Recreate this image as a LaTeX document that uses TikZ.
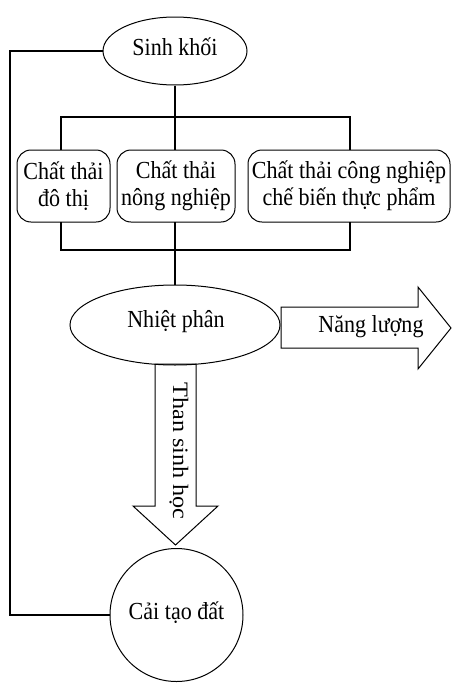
\documentclass[tikz,border=0pt]{standalone}
\usepackage{fontspec}
\setmainfont{Liberation Serif}[FakeStretch=0.9]
\newfontfamily\rotfont{Liberation Serif}[FakeStretch=1.1]
\usetikzlibrary{shapes.geometric}
\begin{document}
\begin{tikzpicture}[x=1pt,y=1pt,
  line/.style={line width=1.5pt},
  shapeline/.style={line width=1pt},
  txt/.style={font=\fontsize{24.5}{27}\selectfont, inner sep=0pt},
  wastebox/.style={draw, shapeline, rounded corners=14pt, align=center, inner sep=0pt,
    minimum height=72pt, font=\fontsize{24.5}{27}\selectfont}
]
\useasboundingbox (0,0) rectangle (452,-683);

% Sinh khoi
\node[draw, shapeline, ellipse, minimum width=144pt, minimum height=68pt, inner sep=0pt] (sk) at (175,-51) {};
\node[txt] (sktext) at (175,-47) {Sinh khối};

% boxes
\node[wastebox, minimum width=93pt] (b1) at (63.5,-186) {Chất thải\\đô thị};
\node[wastebox, minimum width=118pt] (b2) at (176,-186) {Chất thải\\nông nghiệp};
\node[wastebox, minimum width=202pt] (b3) at (349,-186) {Chất thải công nghiệp\\chế biến thực phẩm};

% Nhiet phan
\node[draw, shapeline, ellipse, minimum width=210pt, minimum height=80pt, inner sep=0pt] (np) at (175,-325) {};
\node[txt] (nptext) at (176,-322) {Nhiệt phân};

% Cai tao dat
\node[draw, shapeline, circle, minimum size=133pt, inner sep=0pt] (ct) at (176.5,-615) {};
\node[txt] (cttext) at (176.5,-613) {Cải tạo đất};

% top tree
\coordinate (topbus) at (175,-117);
\coordinate (botbus) at (175,-250);
\draw[line] (sk.south) -- (topbus);
\draw[line] (61,-150) -- (61,-117) -- (350,-117) -- (350,-150);
\draw[line] (topbus) -- (175,-150);
% bottom tree
\draw[line] (61,-222) -- (61,-250) -- (350,-250) -- (350,-222);
\draw[line] (175,-222) -- (botbus) -- (np.north);

% left loop
\coordinate (L) at (10,0);
\draw[line] (sk.west) -- (sk.west -| L) -- (ct.west -| L) -- (ct.west);

% Nang luong arrow
\draw[shapeline, line join=miter] (281,-307) -- (418,-307) -- (418,-287) -- (451,-328) -- (418,-369) -- (418,-348) -- (281,-348) -- cycle;
\node[txt] (nl) at (371,-327) {Năng lượng};

% Than sinh hoc arrow
\draw[shapeline, line join=miter] (155,-364) -- (155,-506) -- (133,-506) -- (175.5,-545) -- (218,-506) -- (196,-506) -- (196,-364) -- cycle;
\node[inner sep=0pt, font=\rotfont\fontsize{22}{26}\selectfont, rotate=-90] (tsh) at (179,-451) {Than sinh học};
\end{tikzpicture}
\end{document}
